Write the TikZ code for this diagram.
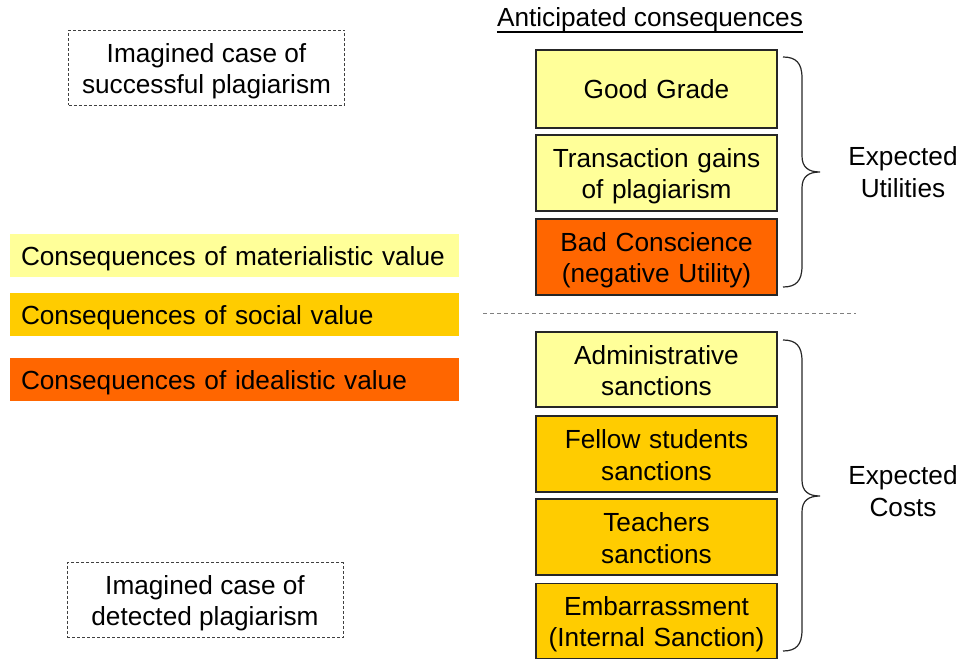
\documentclass[tikz,border=0pt]{standalone}
\usepackage{fontspec}
\setmainfont{Liberation Sans}
\usetikzlibrary{calc}
\definecolor{lightyel}{HTML}{FFFF99}
\definecolor{goldfill}{HTML}{FFCC00}
\definecolor{orngfill}{HTML}{FF6600}
\newcommand{\mytop}{\rule{0pt}{25pt}}
\newcommand{\mybot}{\rule[-4.5pt]{0pt}{0pt}}
\begin{document}
\begin{tikzpicture}[x=1pt,y=-1pt,
  every node/.style={font=\fontsize{26.2}{31.5}\selectfont},
  conbox/.style={draw=black!85, line width=1.2pt, minimum width=241pt, inner sep=0pt, align=center, text width=236pt},
  casebox/.style={draw=black!75, dash pattern=on 3pt off 2pt, line width=1pt, minimum width=276pt, minimum height=75pt, align=center, inner sep=0pt},
  legbox/.style={minimum width=449pt, minimum height=43pt, text width=427pt, inner xsep=11pt, inner ysep=0pt, align=left},
  bracestyle/.style={draw=black!85, line width=1.2pt},
  sepline/.style={draw=gray, dash pattern=on 4pt off 3pt, line width=1pt}
]
\useasboundingbox (0,0) rectangle (961,660);

% imagined cases
\node[casebox] (succ) at (206.5,68) {\mytop Imagined case of\\successful plagiarism\mybot};
\node[casebox] (det) at (205,600) {\mytop Imagined case of\\detected plagiarism\mybot};

% legend
\node[legbox, fill=lightyel] (lmat) at (234.5,255.5) {\mytop Consequences of materialistic value\mybot};
\node[legbox, fill=goldfill] (lsoc) at (234.5,314.5) {\mytop Consequences of social value\mybot};
\node[legbox, fill=orngfill] (lide) at (234.5,379.5) {\mytop Consequences of idealistic value\mybot};

% header
\node[inner sep=0pt, anchor=base] (ant) at (650,27) {Anticipated consequences};
\draw[line width=1.3pt] ($(ant.base west)+(0,5)$) -- ($(ant.base east)+(0,5)$);

% consequence boxes
\node[conbox, fill=lightyel, minimum height=78pt] (gg) at (656.5,89) {Good Grade};
\node[conbox, fill=lightyel, minimum height=76pt] (tg) at (656.5,173) {\mytop Transaction gains\\of plagiarism\mybot};
\node[conbox, fill=orngfill, minimum height=76pt] (bc) at (656.5,257) {\mytop Bad Conscience\\(negative Utility)\mybot};
\node[conbox, fill=lightyel, minimum height=75pt] (as) at (656.5,369.5) {\mytop Administrative\\sanctions\mybot};
\node[conbox, fill=goldfill, minimum height=76pt] (fs) at (656.5,454) {\mytop Fellow students\\sanctions\mybot};
\node[conbox, fill=goldfill, minimum height=76pt] (ts) at (656.5,537) {\mytop Teachers\\sanctions\mybot};
\node[conbox, fill=goldfill, minimum height=75pt] (em) at (656.5,621) {\mytop Embarrassment\\(Internal Sanction)\mybot};

% separator
\coordinate (dl1) at (483,314);
\coordinate (dl2) at (856,314);
\draw[sepline] (dl1) -- (dl2);

% braces
\draw[bracestyle] (783,57) .. controls (796,57) and (802,63) .. (802,78) -- (802,156)
  .. controls (802,167) and (808,172) .. (820,172)
  .. controls (808,172) and (802,177) .. (802,188) -- (802,266)
  .. controls (802,281) and (796,287) .. (783,287);
\draw[bracestyle] (783,340) .. controls (796,340) and (802,346) .. (802,361) -- (802,480)
  .. controls (802,491) and (808,496) .. (820,496)
  .. controls (808,496) and (802,501) .. (802,512) -- (802,630)
  .. controls (802,645) and (796,651) .. (783,651);

% labels
\node[align=center, inner sep=0pt] (eu) at (903,172) {Expected\\Utilities};
\node[align=center, inner sep=0pt] (ec) at (903,491) {Expected\\Costs};
\end{tikzpicture}
\end{document}
